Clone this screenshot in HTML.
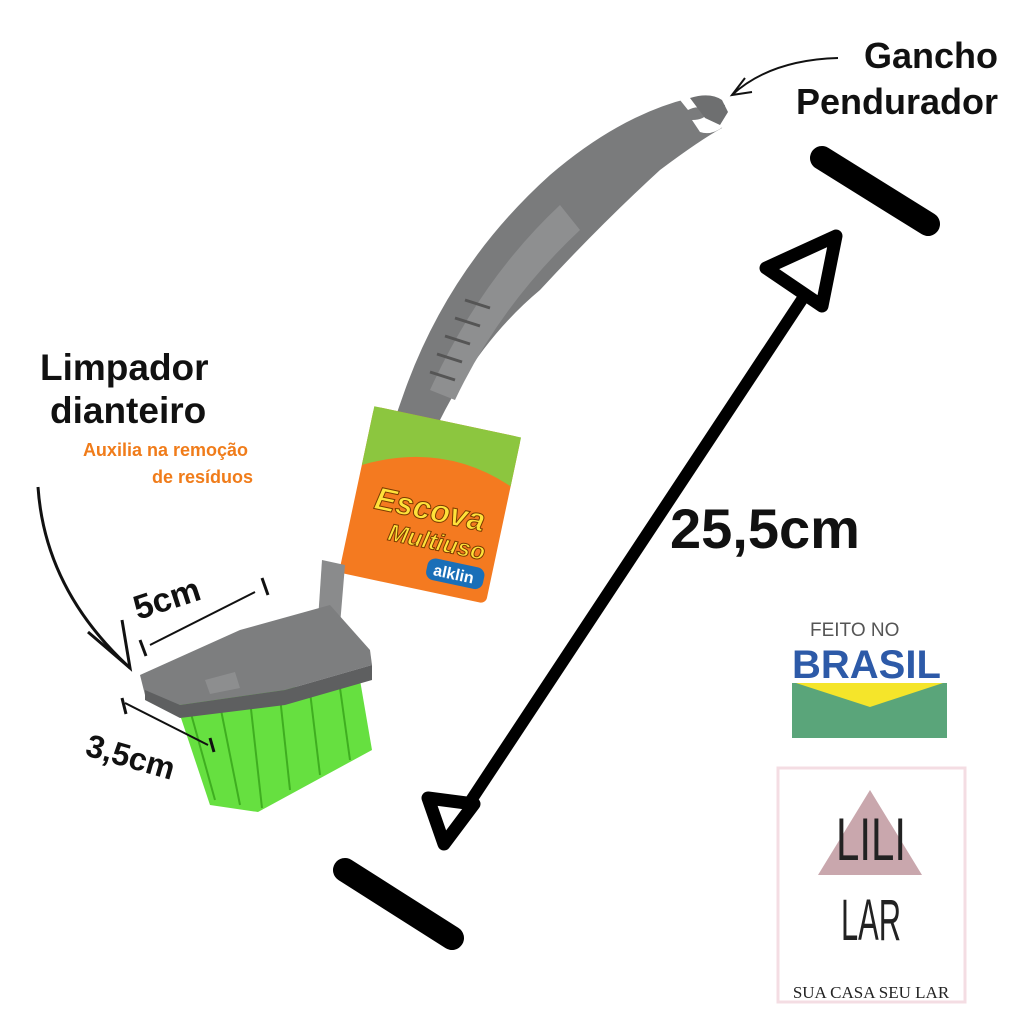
<!DOCTYPE html>
<html><head><meta charset="utf-8"><style>
html,body{margin:0;padding:0;background:#fff;}
svg{display:block;}
</style></head><body>
<svg width="1024" height="1024" viewBox="0 0 1024 1024" xmlns="http://www.w3.org/2000/svg">
<rect width="1024" height="1024" fill="#fff"/>
<text x="998" y="68" text-anchor="end" font-family="Liberation Sans, sans-serif" font-weight="bold" font-size="36" fill="#111">Gancho</text>
<text x="998" y="114" text-anchor="end" font-family="Liberation Sans, sans-serif" font-weight="bold" font-size="36" fill="#111">Pendurador</text>
<path d="M838 58 Q770 60 732 95" stroke="#111" stroke-width="2" fill="none"/>
<path d="M745 78 L732 95 L752 92" stroke="#111" stroke-width="2" fill="none"/>
<line x1="822" y1="158" x2="928" y2="224" stroke="#000" stroke-width="24" stroke-linecap="round"/>
<line x1="345" y1="870" x2="452" y2="938" stroke="#000" stroke-width="24" stroke-linecap="round"/>
<line x1="805" y1="295" x2="468" y2="805" stroke="#000" stroke-width="12"/>
<polygon points="766,268 836,236 822,306" fill="#fff" stroke="#000" stroke-width="13" stroke-linejoin="round"/>
<polygon points="428,798 474,804 444,844" fill="#fff" stroke="#000" stroke-width="13" stroke-linejoin="round"/>
<text x="670" y="548" font-family="Liberation Sans, sans-serif" font-weight="bold" font-size="56" fill="#111">25,5cm</text>
<!-- handle -->
<path d="M690 98 Q620 115 550 175 Q450 265 405 390 Q380 460 350 560 L380 565 Q410 480 440 420 Q480 340 540 290 Q600 225 660 170 Q700 140 722 128 L725 105 Z" fill="#7a7b7c"/>
<path d="M680 100 Q700 92 718 98 Q732 110 724 126 Q712 136 700 132 L692 120 Q705 120 708 112 Q700 104 688 110 Z" fill="#fff"/>
<path d="M690 98 Q710 92 722 100 L728 112 L720 125 L705 118 Z" fill="#6e6f70"/>
<path d="M560 205 Q480 280 430 390 L455 400 Q500 305 580 230 Z" fill="#8e8f90"/>
<g stroke="#555" stroke-width="3">
<line x1="465" y1="300" x2="490" y2="308"/><line x1="455" y1="318" x2="480" y2="326"/>
<line x1="445" y1="336" x2="470" y2="344"/><line x1="437" y1="354" x2="462" y2="362"/>
<line x1="430" y1="372" x2="455" y2="380"/>
</g>
<g transform="rotate(12 430 505)">
<rect x="355" y="420" width="150" height="170" rx="6" fill="#f47a20"/>
<path d="M355 420 H505 V470 Q430 440 355 480 Z" fill="#8cc63f"/>
<text x="375" y="520" font-family="Liberation Sans, sans-serif" font-weight="bold" font-style="italic" font-size="32" fill="#ffe23a" stroke="#7a3b00" stroke-width="1">Escova</text>
<text x="395" y="548" font-family="Liberation Sans, sans-serif" font-weight="bold" font-style="italic" font-size="24" fill="#ffe23a" stroke="#7a3b00" stroke-width="1">Multiuso</text>
<rect x="440" y="556" width="58" height="22" rx="8" fill="#1a6fb8"/>
<text x="447" y="573" font-family="Liberation Sans, sans-serif" font-weight="bold" font-size="16" fill="#fff">alklin</text>
</g>
<path d="M322 560 L345 565 L340 625 L318 620 Z" fill="#8a8b8c"/>
<path d="M175 700 L360 680 L372 750 L258 812 L210 805 Z" fill="#66e040"/>
<g stroke="#3fae20" stroke-width="2">
<line x1="190" y1="710" x2="215" y2="800"/><line x1="220" y1="705" x2="240" y2="805"/>
<line x1="250" y1="700" x2="262" y2="808"/><line x1="280" y1="697" x2="290" y2="790"/>
<line x1="310" y1="692" x2="320" y2="775"/><line x1="340" y1="688" x2="350" y2="760"/>
</g>
<path d="M140 675 L240 630 L330 605 L370 650 L372 665 L285 690 L180 705 L145 695 Z" fill="#7d7e7f"/>
<path d="M145 690 L180 705 L285 690 L372 665 L372 680 L285 705 L180 718 L145 700 Z" fill="#5e5f60"/>
<path d="M205 680 L235 672 L240 688 L210 694 Z" fill="#8d8e8f"/>
<text x="40" y="380" font-family="Liberation Sans, sans-serif" font-weight="bold" font-size="37" fill="#111">Limpador</text>
<text x="50" y="423" font-family="Liberation Sans, sans-serif" font-weight="bold" font-size="37" fill="#111">dianteiro</text>
<text x="248" y="456" text-anchor="end" font-family="Liberation Sans, sans-serif" font-weight="bold" font-size="18" fill="#f07c1a">Auxilia na remoção</text>
<text x="253" y="483" text-anchor="end" font-family="Liberation Sans, sans-serif" font-weight="bold" font-size="18" fill="#f07c1a">de resíduos</text>
<path d="M38 487 Q45 590 130 668" stroke="#111" stroke-width="3" fill="none"/>
<path d="M88 632 L130 668 L122 620" stroke="#111" stroke-width="3" fill="none"/>
<text x="138" y="620" transform="rotate(-18 138 620)" font-family="Liberation Sans, sans-serif" font-weight="bold" font-size="34" fill="#111">5cm</text>
<line x1="150" y1="645" x2="255" y2="592" stroke="#111" stroke-width="2"/>
<line x1="140" y1="640" x2="146" y2="656" stroke="#111" stroke-width="3"/>
<line x1="262" y1="578" x2="268" y2="595" stroke="#111" stroke-width="3"/>
<line x1="125" y1="703" x2="208" y2="745" stroke="#111" stroke-width="2"/>
<line x1="122" y1="698" x2="126" y2="714" stroke="#111" stroke-width="3"/>
<line x1="210" y1="738" x2="214" y2="752" stroke="#111" stroke-width="3"/>
<text x="84" y="755" transform="rotate(16 84 755)" font-family="Liberation Sans, sans-serif" font-weight="bold" font-size="32" fill="#111">3,5cm</text>
<text x="810" y="636" font-family="Liberation Sans, sans-serif" font-size="19" fill="#555">FEITO NO</text>
<text x="792" y="678" font-family="Liberation Sans, sans-serif" font-weight="bold" font-size="40" fill="#2d5aa8">BRASIL</text>
<rect x="792" y="683" width="155" height="55" fill="#5aa57a"/>
<polygon points="796,683 943,683 870,707" fill="#f5e52a"/>
<rect x="778" y="768" width="187" height="234" fill="#fff" stroke="#f4dde3" stroke-width="3"/>
<polygon points="870,790 818,875 922,875" fill="#c9a7ad"/>
<text x="871" y="860" text-anchor="middle" font-family="Liberation Sans, sans-serif" font-size="60" fill="#222" textLength="70" lengthAdjust="spacingAndGlyphs">LILI</text>
<text x="871" y="940" text-anchor="middle" font-family="Liberation Sans, sans-serif" font-size="58" fill="#222" textLength="60" lengthAdjust="spacingAndGlyphs">LAR</text>
<text x="871" y="998" text-anchor="middle" font-family="Liberation Serif, serif" font-size="17" fill="#222">SUA CASA SEU LAR</text>
</svg>
</body></html>
